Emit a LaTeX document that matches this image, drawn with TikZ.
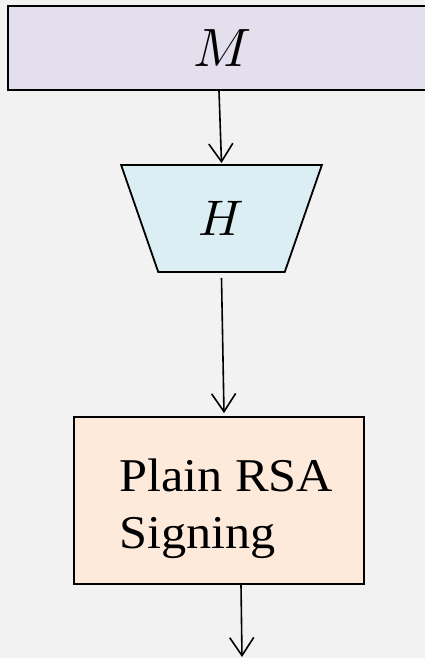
\documentclass[tikz,border=0pt]{standalone}
\usepackage{fontspec}
\usepackage{graphicx}
\newfontfamily\labelfont[FakeStretch=1.07]{Liberation Serif}
\usetikzlibrary{arrows.meta,calc,shapes.geometric}

\definecolor{bgcol}{HTML}{F2F2F2}
\definecolor{msgfill}{HTML}{E4DFEC}
\definecolor{hashfill}{HTML}{DBEEF3}
\definecolor{signfill}{HTML}{FDEADA}

\tikzset{
  stage/.style={draw=black, line width=1.8pt},
  flow/.style={line width=1.6pt, -{Straight Barb[length=18pt,width=24pt,line width=1.6pt]}},
}

\begin{document}
\begin{tikzpicture}[x=1pt,y=-1pt]
  % canvas
  \fill[bgcol] (0,0) rectangle (425,658);
  \useasboundingbox (0,0) rectangle (425,658);
  \clip (0,0) rectangle (425,658);

  % message block (runs past the right edge)
  \node[stage, fill=msgfill, minimum width=430pt, minimum height=84pt, inner sep=0pt]
    (msg) at (223,48) {\scalebox{5.4}{$M$}};

  % hash function, drawn as an inverted trapezium
  \node[stage, fill=hashfill, trapezium, trapezium stretches=true,
        trapezium angle=68.6, shape border rotate=180,
        minimum width=201pt, minimum height=107pt, inner sep=0pt]
    (hash) at (221.5,218.5) {\scalebox{5}{$H$}};

  % signing block
  \node[stage, fill=signfill, minimum width=290pt, minimum height=167pt, inner sep=0pt]
    (sign) at (219,500.5) {};
  \node[anchor=base west, align=left, inner sep=0pt, font=\labelfont\fontsize{47}{56.5}\selectfont]
    (signtext) at ($(sign.west)+(46,47.5)$) {Plain RSA\\Signing};

  % output end
  \coordinate (out) at (242,657);

  % connectors
  \draw[flow] ($(msg.south)+(-4,0)$) -- ($(hash.north)+(0,-1)$);
  \draw[flow] ($(hash.south)+(0,5)$) -- ($(sign.north)+(5,-3)$);
  \draw[flow] ($(sign.south)+(22,0)$) -- (out);
\end{tikzpicture}
\end{document}
